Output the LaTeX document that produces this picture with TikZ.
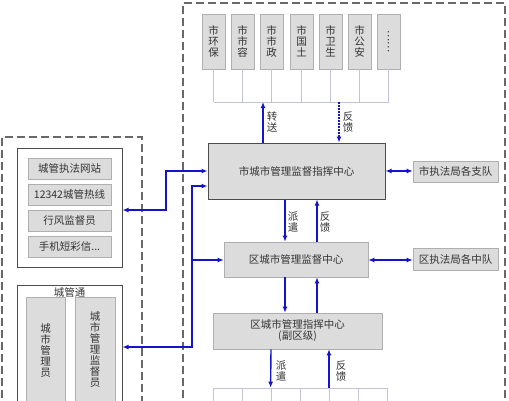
\documentclass[tikz,border=0pt]{standalone}
\usepackage{fontspec}
\newfontfamily\cjk{Noto Sans CJK SC}
\usetikzlibrary{arrows.meta}
\definecolor{ablue}{RGB}{20,20,205}
\definecolor{gfill}{RGB}{220,220,220}
\definecolor{gline}{RGB}{175,175,175}
\definecolor{lline}{RGB}{195,195,215}
\definecolor{dashc}{RGB}{105,105,105}
\tikzset{
 txt/.style={font=\cjk\fontsize{10.5}{11}\selectfont, text=black!80},
 gbox/.style={draw=gline, fill=gfill, line width=0.6pt, inner sep=0pt, txt, align=center},
 arr/.style={draw=ablue, line width=1.4pt, -{Latex[length=6pt,width=5pt]}},
 darr/.style={draw=ablue, line width=1.4pt, {Latex[length=6pt,width=5pt]}-{Latex[length=6pt,width=5pt]}},
 dotarr/.style={draw=ablue, line width=1.4pt, dash pattern=on 1.5pt off 1.5pt, -{Latex[length=6pt,width=5pt]}},
 dline/.style={draw=dashc, line width=1.1pt, dash pattern=on 8pt off 4pt},
 thinl/.style={draw=lline, line width=0.8pt},
 vlab/.style={txt, align=center, inner sep=0pt},
 frame/.style={draw=black!70, line width=1pt, inner sep=0pt},
}
\begin{document}
\begin{tikzpicture}[x=1pt,y=-1pt]
\useasboundingbox (0,0) rectangle (509,400);
\clip (0,0) rectangle (509,400);
% dashed regions
\draw[dline] (183,410) -- (183,3) -- (505,3) -- (505,410);
\draw[dline] (2,410) -- (2,137) -- (142,137) -- (142,410);
% top departments
\foreach \n/\x/\t in {t1/213.5/市\\环\\保, t2/242.5/市\\市\\容, t3/271.5/市\\市\\政, t4/301.5/市\\国\\土, t5/330.5/市\\卫\\生, t6/359.5/市\\公\\安}{
  \node[gbox, minimum width=23pt, minimum height=55pt] (\n) at (\x,41.5) {\t};
}
\node[gbox, minimum width=23pt, minimum height=55pt] (t7) at (388.5,41.5) {};
\node[txt, rotate=-90, inner sep=0pt] (t7dots) at (t7) {……};
\coordinate (busL) at (213.5,102);
\coordinate (busR) at (388.5,102);
\draw[thinl] (busL) -- (busR);
\foreach \n in {t1,t2,t3,t4,t5,t6,t7}{ \draw[thinl] (\n.south) -- (\n.south |- busL); }
% centers
\node[frame, fill=gfill, minimum width=177pt, minimum height=56pt, txt] (cc) at (296.5,171) {市城市管理监督指挥中心};
\node[gbox, minimum width=85pt, minimum height=21pt] (zd) at (455.5,171.5) {市执法局各支队};
\node[gbox, minimum width=144pt, minimum height=35pt] (qc) at (296,259.5) {区城市管理监督中心};
\node[gbox, minimum width=85pt, minimum height=22pt] (qd) at (455.5,259.5) {区执法局各中队};
\node[gbox, minimum width=169pt, minimum height=36pt] (qz) at (297.5,331) {区城市管理指挥中心\\(副区级)};
% bottom cells
\foreach \i in {0,...,5}{
  \node[draw=lline, line width=0.8pt, minimum width=29pt, minimum height=20pt, inner sep=0pt] (b\i) at (227.5+29*\i,398) {};
}
% left box 1
\node[frame, minimum width=105pt, minimum height=119pt] (L1) at (69.5,207.5) {};
\node[gbox, minimum width=83pt, minimum height=21pt] (i1) at (69.5,168.5) {城管执法网站};
\node[gbox, minimum width=83pt, minimum height=21pt] (i2) at (69.5,194.5) {12342城管热线};
\node[gbox, minimum width=83pt, minimum height=21pt] (i3) at (69.5,220.5) {行风监督员};
\node[gbox, minimum width=83pt, minimum height=21pt] (i4) at (69.5,246.5) {手机短彩信...};
% left box 2
\node[frame, minimum width=105pt, minimum height=125pt] (L2) at (69.5,347.5) {};
\node[txt, inner sep=0pt] (L2t) at (69.5,292) {城管通};
\node[gbox, minimum width=39pt, minimum height=113pt] (c1) at (45.5,353.5) {};
\node[gbox, minimum width=40pt, minimum height=113pt] (c2) at (95,353.5) {};
\node[vlab] (c1t) at (45.5,351) {城\\市\\管\\理\\员};
\node[vlab] (c2t) at (95,350) {城\\市\\管\\理\\监\\督\\员};
% connectors top
\draw[arr] (cc.north -| 263,0) -- (263,102);
\draw[dotarr] (339,102) -- (cc.north -| 339,0);
\node[vlab] (l1) at (272,122) {转\\送};
\node[vlab] (l2) at (348,122) {反\\馈};
% cc - zd
\draw[darr] (cc.east) -- (zd.west |- cc.east);
% cc - qc
\draw[arr] (cc.south -| 285,0) -- (qc.north -| 285,0);
\draw[arr] (qc.north -| 317,0) -- (cc.south -| 317,0);
\node[vlab] (l3) at (293,222) {派\\遣};
\node[vlab] (l4) at (325,222) {反\\馈};
% qc - qd
\draw[darr] (qc.east |- 0,260) -- (qd.west |- 0,260);
% qc - qz
\draw[arr] (qc.south -| 285,0) -- (qz.north -| 285,0);
\draw[arr] (qz.north -| 317,0) -- (qc.south -| 317,0);
% qz - bottom
\draw[arr] (qz.south -| 271,0) -- (b2.north west);
\draw[arr] (b4.north -| 329,0) -- (qz.south -| 329,0);
\node[vlab] (l5) at (281,371) {派\\遣};
\node[vlab] (l6) at (341,371) {反\\馈};
% left connectors
\draw[darr] (L1.east |- 0,210) -- (166,210) -- (166,171) -- (cc.west |- 0,171);
\draw[darr] (L2.east |- 0,347) -- (192,347) -- (192,186) -- (cc.west |- 0,186);
\draw[arr] (192,260) -- (qc.west |- 0,260);
\end{tikzpicture}
\end{document}
